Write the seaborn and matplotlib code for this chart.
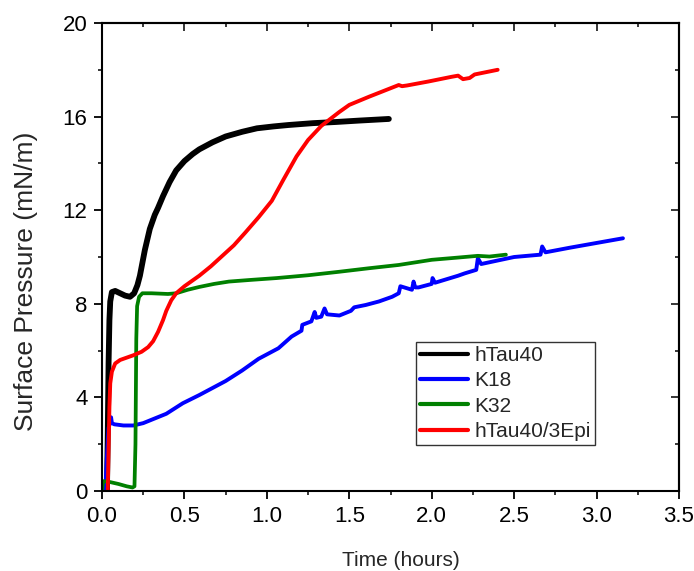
import numpy as np
import pandas as pd
import matplotlib
matplotlib.use("Agg")
import matplotlib.pyplot as plt
import seaborn as sns

# ---- data ----
htau40_x = [0.030, 0.035, 0.040, 0.045, 0.050, 0.060, 0.080, 0.110, 0.140, 0.170, 0.195, 0.215,
            0.230, 0.260, 0.290, 0.320, 0.340, 0.370, 0.410, 0.450, 0.500, 0.550, 0.590, 0.670,
            0.750, 0.850, 0.940, 1.040, 1.130, 1.280, 1.420, 1.560, 1.740]
htau40_y = [0.0, 2.5, 5.5, 7.3, 8.1, 8.5, 8.55, 8.45, 8.35, 8.3, 8.45, 8.8,
            9.2, 10.3, 11.2, 11.8, 12.1, 12.6, 13.2, 13.7, 14.1, 14.4, 14.6, 14.9,
            15.15, 15.35, 15.5, 15.58, 15.64, 15.72, 15.77, 15.83, 15.9]

k18_x = [0.020, 0.030, 0.040, 0.050, 0.055, 0.060, 0.075, 0.130, 0.190, 0.250, 0.320, 0.390,
         0.490, 0.590, 0.750, 0.850, 0.950, 1.070, 1.150, 1.210, 1.215, 1.270, 1.290, 1.300,
         1.330, 1.350, 1.365, 1.440, 1.510, 1.530, 1.600, 1.680, 1.760, 1.800, 1.810, 1.880,
         1.890, 1.900, 1.920, 2.000, 2.005, 2.020, 2.160, 2.200, 2.270, 2.280, 2.300, 2.400,
         2.500, 2.660, 2.670, 2.690, 2.840, 3.000, 3.160]
k18_y = [0.0, 1.5, 2.7, 2.95, 3.15, 2.9, 2.85, 2.8, 2.8, 2.9, 3.1, 3.3,
         3.75, 4.1, 4.7, 5.15, 5.65, 6.1, 6.6, 6.85, 7.1, 7.25, 7.65, 7.4,
         7.45, 7.8, 7.55, 7.5, 7.7, 7.85, 7.95, 8.1, 8.3, 8.45, 8.75, 8.6,
         8.95, 8.7, 8.7, 8.85, 9.1, 8.9, 9.2, 9.3, 9.45, 9.95, 9.7, 9.85,
         10.0, 10.1, 10.45, 10.2, 10.4, 10.6, 10.8]

k32_x = [0.000, 0.005, 0.010, 0.050, 0.100, 0.150, 0.185, 0.197, 0.203, 0.208, 0.213, 0.225,
         0.245, 0.300, 0.400, 0.450, 0.520, 0.590, 0.680, 0.770, 0.900, 1.060, 1.250, 1.440,
         1.620, 1.800, 2.000, 2.150, 2.280, 2.350, 2.450]
k32_y = [0.0, 0.3, 0.42, 0.38, 0.3, 0.2, 0.15, 0.2, 2.0, 6.5, 7.9, 8.3,
         8.45, 8.45, 8.42, 8.45, 8.6, 8.72, 8.85, 8.95, 9.02, 9.1, 9.22, 9.37,
         9.52, 9.66, 9.88, 9.97, 10.05, 10.02, 10.1]

htau40_3epi_x = [0.035, 0.040, 0.045, 0.050, 0.060, 0.080, 0.110, 0.150, 0.190, 0.240, 0.280, 0.310,
                 0.340, 0.370, 0.390, 0.420, 0.450, 0.500, 0.590, 0.660, 0.730, 0.800, 0.870, 0.950,
                 1.030, 1.100, 1.180, 1.250, 1.330, 1.440, 1.500, 1.620, 1.710, 1.800, 1.820, 1.850,
                 1.980, 2.120, 2.160, 2.190, 2.230, 2.260, 2.400]
htau40_3epi_y = [0.0, 1.8, 3.6, 4.6, 5.1, 5.45, 5.6, 5.7, 5.8, 5.95, 6.15, 6.4,
                 6.8, 7.3, 7.7, 8.15, 8.45, 8.75, 9.2, 9.6, 10.05, 10.5, 11.05, 11.7,
                 12.4, 13.3, 14.3, 15.0, 15.6, 16.2, 16.5, 16.85, 17.1, 17.35, 17.3, 17.33,
                 17.5, 17.7, 17.75, 17.6, 17.65, 17.8, 18.0]

series_names = ["hTau40", "K18", "K32", "hTau40/3Epi"]
series_x = [htau40_x, k18_x, k32_x, htau40_3epi_x]
series_y = [htau40_y, k18_y, k32_y, htau40_3epi_y]
series_colors = ["#000000", "#0000FF", "#008000", "#FF0000"]
series_lw = [4.2, 2.8, 2.7, 2.8]

x_ticks = [0.0, 0.5, 1.0, 1.5, 2.0, 2.5, 3.0, 3.5]
y_ticks = [0, 4, 8, 12, 16, 20]

# ---- style ----
sns.set_style("white")
plt.rcParams["font.family"] = ["Liberation Sans", "DejaVu Sans"]

fig = plt.figure(figsize=(6.94, 5.71), dpi=100)
ax = fig.add_axes([102 / 694, 1 - 491 / 571, 577 / 694, 468 / 571])

for name, xs, ys, c, lw in zip(series_names, series_x, series_y, series_colors, series_lw):
    df = pd.DataFrame({"x": xs, "y": ys})
    sns.lineplot(data=df, x="x", y="y", color=c, lw=lw, label=name,
                 sort=False, estimator=None, ax=ax, solid_joinstyle="round",
                 solid_capstyle="round")

ax.set_xlim(0, 3.5)
ax.set_ylim(0, 20)
ax.set_xticks(x_ticks)
ax.set_xticklabels([f"{v:.1f}" for v in x_ticks])
ax.set_yticks(y_ticks)
ax.set_yticklabels([str(v) for v in y_ticks])
ax.set_xticks(np.arange(0.25, 3.5, 0.5), minor=True)
ax.set_yticks(np.arange(2, 20, 4), minor=True)

for s in ax.spines.values():
    s.set_visible(True)
    s.set_color("black")
    s.set_linewidth(1.5)

ax.tick_params(which="major", direction="out", length=5.5, width=1.3, labelsize=16,
               colors="black", pad=5, bottom=True, left=True)
ax.tick_params(which="minor", direction="out", length=3, width=1.3, bottom=True, left=True)

# mirrored ticks on top/right pointing inward
topx = ax.secondary_xaxis("top")
topx.set_xticks(x_ticks)
topx.set_xticks(np.arange(0.25, 3.5, 0.5), minor=True)
topx.tick_params(which="major", direction="in", length=5.5, width=1.3, labeltop=False)
topx.tick_params(which="minor", direction="in", length=3, width=1.3)
topx.spines["top"].set_linewidth(1.5)
rightx = ax.secondary_yaxis("right")
rightx.set_yticks(y_ticks)
rightx.set_yticks(np.arange(2, 20, 4), minor=True)
rightx.tick_params(which="major", direction="in", length=5.5, width=1.3, labelright=False)
rightx.tick_params(which="minor", direction="in", length=3, width=1.3)
rightx.spines["right"].set_linewidth(1.5)

ax.set_xlabel("Time (hours)", fontsize=15)
ax.xaxis.set_label_coords((401 - 102) / 577, (491 - 551) / 468)
ax.set_ylabel("Surface Pressure (mN/m)", fontsize=19)
ax.yaxis.set_label_coords((38 - 102) / 577, (491 - 281) / 468)

leg = ax.legend(loc="upper left", bbox_to_anchor=((416 - 102) / 577, (491 - 342) / 468),
                borderaxespad=0, fontsize=15, frameon=True, fancybox=False,
                edgecolor="black", handlelength=2.3, handletextpad=0.3,
                labelspacing=0.3, borderpad=0.2)
leg.get_frame().set_linewidth(1.0)
for line in leg.get_lines():
    line.set_linewidth(3.0)

fig.savefig("out.png", dpi=100, facecolor="white")
